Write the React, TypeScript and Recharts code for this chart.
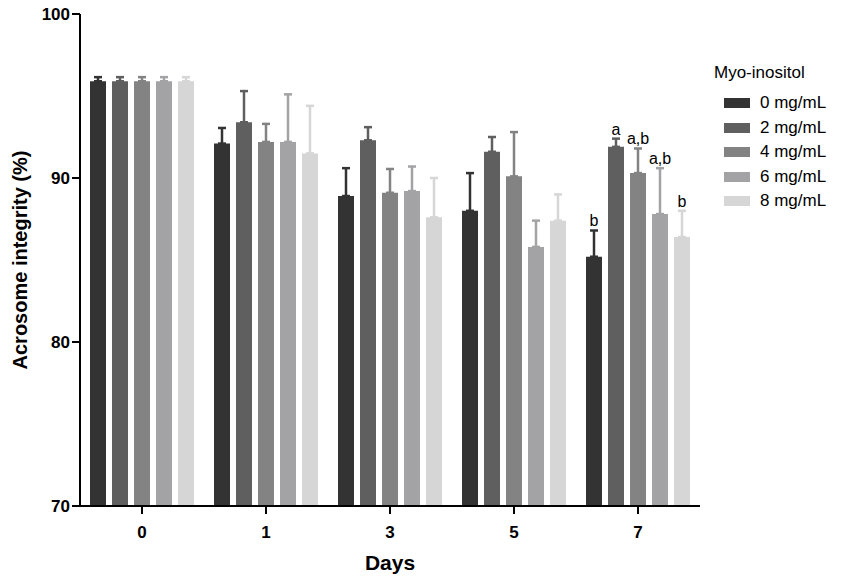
import React from "react";
import {
  BarChart,
  Bar,
  XAxis,
  YAxis,
  ErrorBar,
  LabelList,
} from "recharts";

const days = ["0", "1", "3", "5", "7"];
const doses = ["0 mg/mL", "2 mg/mL", "4 mg/mL", "6 mg/mL", "8 mg/mL"];
const colors = ["#333333", "#5f5f5f", "#838383", "#a3a3a6", "#d6d6d6"];

// mean values per dose, one entry per day
const dose0 = [95.9, 92.1, 88.9, 88.0, 85.2];
const dose2 = [95.9, 93.4, 92.3, 91.6, 91.9];
const dose4 = [95.9, 92.2, 89.1, 90.1, 90.3];
const dose6 = [95.9, 92.2, 89.2, 85.8, 87.8];
const dose8 = [95.9, 91.5, 87.6, 87.4, 86.4];

// upper error (SD)
const err0 = [0.25, 0.95, 1.7, 2.3, 1.6];
const err2 = [0.25, 1.9, 0.8, 0.9, 0.5];
const err4 = [0.25, 1.1, 1.45, 2.7, 1.5];
const err6 = [0.25, 2.9, 1.5, 1.6, 2.8];
const err8 = [0.25, 2.9, 2.4, 1.6, 1.6];

// significance letters (day 7 only)
const letters0 = ["", "", "", "", "b"];
const letters2 = ["", "", "", "", "a"];
const letters4 = ["", "", "", "", "a,b"];
const letters6 = ["", "", "", "", "a,b"];
const letters8 = ["", "", "", "", "b"];

const means = [dose0, dose2, dose4, dose6, dose8];
const errs = [err0, err2, err4, err6, err8];
const letters = [letters0, letters2, letters4, letters6, letters8];

const data = days.map((d, i) => {
  const row: any = { day: d };
  means.forEach((m, k) => {
    row["v" + k] = m[i];
    row["e" + k] = [0, errs[k][i]];
    row["l" + k] = letters[k][i];
  });
  return row;
});

const FONT = "Arial, 'Liberation Sans', sans-serif";

function LetterLabel(props: any, k: number) {
  const { x, y, width, height, value, index } = props;
  if (!value) return null;
  const v = means[k][index];
  const scale = height / (v - 70);
  const capY = y - errs[k][index] * scale;
  return (
    <text
      x={x + width / 2}
      y={capY - 4}
      textAnchor="middle"
      fontFamily={FONT}
      fontSize={16}
      fill="#000"
    >
      {value}
    </text>
  );
}

function LegendBox() {
  return (
    <div
      style={{
        position: "absolute",
        left: 712,
        top: 63,
        fontFamily: FONT,
        color: "#000",
      }}
    >
      <div style={{ fontSize: 17, marginBottom: 8, marginLeft: 2 }}>
        Myo-inositol
      </div>
      {doses.map((d, k) => (
        <div
          key={d}
          style={{ display: "flex", alignItems: "center", height: 24.5 }}
        >
          <div
            style={{
              width: 26,
              height: 10,
              background: colors[k],
              marginLeft: 12,
              marginRight: 10,
            }}
          />
          <span style={{ fontSize: 17 }}>{d}</span>
        </div>
      ))}
    </div>
  );
}

export default function App() {
  return (
    <div
      style={{
        position: "absolute",
        left: 0,
        top: 0,
        width: 851,
        height: 582,
        background: "#fff",
      }}
    >
      <BarChart
        width={851}
        height={582}
        data={data}
        margin={{ top: 14, right: 151, bottom: 0, left: 30 }}
        barSize={16}
        barGap={6}
      >
        <XAxis
          dataKey="day"
          height={76}
          axisLine={{ stroke: "#000", strokeWidth: 2 }}
          tickLine={{ stroke: "#000", strokeWidth: 2 }}
          tickSize={8}
          tick={{
            fill: "#000",
            fontSize: 17,
            fontWeight: "bold",
            fontFamily: FONT,
          }}
          tickMargin={12}
          label={{
            value: "Days",
            position: "insideBottom",
            offset: 12,
            fill: "#000",
            fontSize: 21,
            fontWeight: "bold",
            fontFamily: FONT,
          }}
        />
        <YAxis
          width={50}
          domain={[70, 100]}
          ticks={[70, 80, 90, 100]}
          allowDataOverflow
          axisLine={{ stroke: "#000", strokeWidth: 2 }}
          tickLine={{ stroke: "#000", strokeWidth: 2 }}
          tickSize={8}
          tickMargin={2}
          tick={{
            fill: "#000",
            fontSize: 17,
            fontWeight: "bold",
            fontFamily: FONT,
          }}
          label={{
            value: "Acrosome integrity (%)",
            angle: -90,
            position: "insideLeft",
            offset: -10,
            style: { textAnchor: "middle" },
            fill: "#000",
            fontSize: 20,
            fontWeight: "bold",
            fontFamily: FONT,
          }}
        />
        {doses.map((d, k) => (
          <Bar
            key={d}
            dataKey={"v" + k}
            name={d}
            fill={colors[k]}
            isAnimationActive={false}
          >
            <ErrorBar
              dataKey={"e" + k}
              width={4}
              stroke={colors[k]}
              strokeWidth={2.5}
              direction="y"
            />
            <LabelList
              dataKey={"l" + k}
              content={(p: any) => LetterLabel(p, k)}
            />
          </Bar>
        ))}
      </BarChart>
      <LegendBox />
    </div>
  );
}
